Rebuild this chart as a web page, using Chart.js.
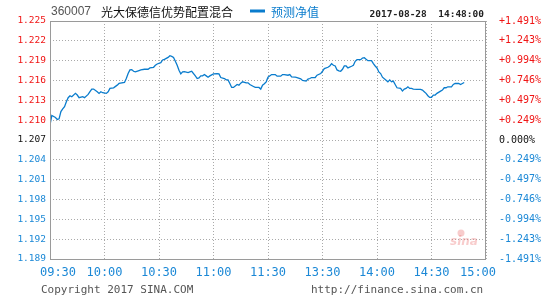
<!DOCTYPE html>
<html>
<head>
<meta charset="utf-8">
<title>360007 光大保德信优势配置混合</title>
<script src="https://cdn.jsdelivr.net/npm/chart.js@4.4.0/dist/chart.umd.min.js"></script>
<style>
  html, body { margin: 0; padding: 0; background: #fff; }
  #wrap { width: 545px; height: 300px; }
</style>
</head>
<body>
<div id="wrap"><canvas id="navChart" width="545" height="300"></canvas></div>
<script>
// fund info
const fundCode = '360007';
const fundName = '光大保德信优势配置混合';
const legendText = '预测净值';
const stamp = '2017-08-28  14:48:00';
const baseNav = 1.2072; // previous close, 0.000% line

// minutes since 09:30 (lunch break removed), and the estimated nav at each
const minutes = [0, 1, 3, 4, 5, 6, 7, 8, 9, 10, 11, 12, 14, 15, 16, 18, 19, 21, 22, 23,
  24, 26, 27, 28, 29, 31, 32, 33, 35, 37, 38, 41, 42, 43, 44, 45, 46, 47, 49, 50,
  52, 54, 55, 57, 58, 59, 61, 62, 63, 65, 66, 67, 68, 69, 70, 71, 72, 73, 74, 76,
  77, 78, 80, 81, 82, 83, 84, 85, 86, 87, 88, 90, 92, 93, 94, 96, 97, 98, 99, 100,
  101, 103, 104, 105, 106, 108, 109, 110, 112, 113, 115, 116, 117, 118, 119, 120, 122, 124, 125, 127,
  128, 129, 131, 132, 133, 135, 136, 138, 139, 141, 142, 143, 144, 146, 147, 149, 150, 151, 153, 154,
  155, 156, 157, 158, 159, 160, 161, 162, 163, 164, 166, 167, 168, 169, 171, 172, 173, 174, 175, 177,
  178, 179, 180, 181, 182, 183, 185, 186, 187, 188, 189, 190, 191, 193, 194, 195, 196, 197, 198, 199,
  200, 202, 204, 205, 206, 207, 208, 209, 210, 211, 212, 213, 215, 216, 217, 218, 219, 221, 222, 223,
  225, 226, 227, 228];
const nav = [1.2095, 1.2109, 1.2106, 1.2103, 1.2104, 1.2115, 1.2119, 1.21225, 1.2130, 1.2136, 1.2139, 1.21375, 1.21425, 1.2140, 1.2136, 1.21375, 1.2136, 1.2141, 1.2145, 1.2149,
  1.2149, 1.2145, 1.21425, 1.2145, 1.21435, 1.21425, 1.2145, 1.2150, 1.2151, 1.2155, 1.21575, 1.2159, 1.2165, 1.21725, 1.2178, 1.21785, 1.2176, 1.2175, 1.2177, 1.2178,
  1.2179, 1.2179, 1.2181, 1.2182, 1.2185, 1.2187, 1.2189, 1.2193, 1.2194, 1.2197, 1.21995, 1.21985, 1.2197, 1.2191, 1.2185, 1.21775, 1.2172, 1.2175, 1.21755, 1.2174,
  1.2175, 1.2176, 1.2169, 1.2165, 1.2166, 1.2169, 1.2169, 1.2171, 1.2169, 1.2167, 1.2169, 1.2172, 1.21725, 1.2172, 1.21665, 1.2165, 1.2163, 1.2163, 1.21575, 1.21515,
  1.21515, 1.2156, 1.2155, 1.2158, 1.2160, 1.21585, 1.21585, 1.2156, 1.2153, 1.21515, 1.21515, 1.2149, 1.2155, 1.2157, 1.2160, 1.2167, 1.2171, 1.2171, 1.21685, 1.21685,
  1.2171, 1.2171, 1.2170, 1.2171, 1.21675, 1.2167, 1.21665, 1.21645, 1.2162, 1.2161, 1.2164, 1.2165, 1.21665, 1.21665, 1.2170, 1.21725, 1.2176, 1.2180, 1.2182, 1.2184,
  1.21875, 1.2185, 1.2184, 1.2178, 1.21765, 1.2176, 1.2179, 1.2184, 1.2184, 1.2181, 1.21835, 1.2185, 1.2191, 1.21935, 1.21935, 1.2196, 1.21965, 1.2194, 1.2192, 1.2192,
  1.21875, 1.2184, 1.2181, 1.2175, 1.21725, 1.2167, 1.21625, 1.2160, 1.2163, 1.2160, 1.2161, 1.2156, 1.2151, 1.2150, 1.2146, 1.2149, 1.2150, 1.21525, 1.2150, 1.2150,
  1.2149, 1.21485, 1.21485, 1.21475, 1.2145, 1.21425, 1.2139, 1.21365, 1.21365, 1.2140, 1.2140, 1.21425, 1.2146, 1.21475, 1.2151, 1.2151, 1.21525, 1.21525, 1.2156, 1.21575,
  1.21575, 1.2156, 1.21575, 1.2159];

// axis labels, top to bottom
const leftLabels = ['1.225', '1.222', '1.219', '1.216', '1.213', '1.210', '1.207',
  '1.204', '1.201', '1.198', '1.195', '1.192', '1.189'];
const rightLabels = ['+1.491%', '+1.243%', '+0.994%', '+0.746%', '+0.497%', '+0.249%', '0.000%',
  '-0.249%', '-0.497%', '-0.746%', '-0.994%', '-1.243%', '-1.491%'];
const timeLabels = ['09:30', '10:00', '10:30', '11:00', '11:30', '13:30', '14:00', '14:30', '15:00'];
const timeMinutes = [0, 30, 60, 90, 120, 150, 180, 210, 240];

const STEP = 0.003;
const HALF = 6;
const tickValues = leftLabels.map((l, i) => baseNav + (HALF - i) * STEP).reverse(); // ascending

const RED = '#f01414';
const BLUE = '#1b88d6';
const LINE = '#0a7ccd';
const MONO = '"DejaVu Sans Mono", monospace';
const CJK = '"Noto Sans CJK SC", "Noto Sans", sans-serif';

function tickColor(ctx) {
  const v = ctx.tick.value;
  if (v > baseNav + 0.0005) return RED;
  if (v < baseNav - 0.0005) return BLUE;
  return '#111';
}

const gridStyle = { color: '#aaaaaa', lineWidth: 1, drawTicks: false };

const decorPlugin = {
  id: 'decor',
  afterDraw(chart) {
    const ctx = chart.ctx;
    const a = chart.chartArea;
    const xs = chart.scales.x;
    ctx.save();

    // frame
    ctx.strokeStyle = '#9a9a9a';
    ctx.lineWidth = 1;
    ctx.strokeRect(Math.round(a.left) + 0.5, Math.round(a.top) + 0.5,
      Math.round(a.right - a.left) - 1, Math.round(a.bottom - a.top));

    // header
    ctx.textBaseline = 'middle';
    ctx.textAlign = 'left';
    ctx.fillStyle = '#555';
    ctx.font = '12px "Liberation Sans", Arial, sans-serif';
    ctx.fillText(fundCode, 51, 12);
    ctx.fillStyle = '#111';
    ctx.font = '12px ' + CJK;
    ctx.fillText(fundName, 101, 12);
    ctx.fillStyle = LINE;
    ctx.fillRect(250, 9.5, 15, 3);
    ctx.fillText(legendText, 271, 12);
    ctx.fillStyle = '#222';
    ctx.font = 'bold 9.5px ' + MONO;
    ctx.textAlign = 'right';
    ctx.fillText(stamp, 484, 15);

    // time labels
    ctx.font = '12px ' + MONO;
    ctx.fillStyle = BLUE;
    ctx.textAlign = 'center';
    timeLabels.forEach((t, i) => {
      let px = xs.getPixelForValue(timeMinutes[i]);
      px = Math.min(Math.max(px, a.left + 8), a.right - 8);
      ctx.fillText(t, px, 273);
    });

    // footer
    ctx.fillStyle = '#555';
    ctx.font = '11px ' + MONO;
    ctx.textAlign = 'left';
    ctx.fillText('Copyright 2017 SINA.COM', 41, 290);
    ctx.fillText('http://finance.sina.com.cn', 311, 290);

    // watermark
    ctx.fillStyle = 'rgba(235, 110, 110, 0.35)';
    ctx.font = 'italic bold 12px "DejaVu Sans", sans-serif';
    ctx.textAlign = 'center';
    ctx.fillText('sina', 464, 242);
    ctx.beginPath();
    ctx.arc(461, 233, 3.5, 0, Math.PI * 2);
    ctx.fill();
    ctx.restore();
  }
};

new Chart(document.getElementById('navChart'), {
  type: 'line',
  data: {
    datasets: [{
      label: legendText,
      data: minutes.map((m, i) => ({ x: m, y: nav[i] })),
      borderColor: LINE,
      borderWidth: 1.3,
      pointRadius: 0,
      tension: 0,
      fill: false
    }]
  },
  options: {
    responsive: false,
    animation: false,
    layout: { padding: { top: 21, bottom: 41, left: 0, right: 0 } },
    plugins: { legend: { display: false }, tooltip: { enabled: false } },
    scales: {
      x: {
        type: 'linear',
        min: 0,
        max: 240,
        afterBuildTicks: (scale) => { scale.ticks = timeMinutes.map(v => ({ value: v })); },
        afterFit: (scale) => { scale.height = 0; },
        ticks: { display: false },
        grid: gridStyle,
        border: { display: false, dash: [1, 2] }
      },
      y: {
        position: 'left',
        min: tickValues[0],
        max: tickValues[tickValues.length - 1],
        afterBuildTicks: (scale) => { scale.ticks = tickValues.map(v => ({ value: v })); },
        afterFit: (scale) => { scale.width = 50; },
        ticks: {
          padding: 4,
          font: { family: MONO, size: 9.5 },
          color: tickColor,
          callback: (v, i) => leftLabels[leftLabels.length - 1 - i]
        },
        grid: gridStyle,
        border: { display: false, dash: [1, 2] }
      },
      y2: {
        position: 'right',
        min: tickValues[0],
        max: tickValues[tickValues.length - 1],
        afterBuildTicks: (scale) => { scale.ticks = tickValues.map(v => ({ value: v })); },
        afterFit: (scale) => { scale.width = 59; },
        ticks: {
          padding: 5,
          font: { family: MONO, size: 10 },
          color: tickColor,
          callback: (v, i) => rightLabels[rightLabels.length - 1 - i]
        },
        grid: { display: false },
        border: { display: false }
      }
    }
  },
  plugins: [decorPlugin]
});
</script>
</body>
</html>
